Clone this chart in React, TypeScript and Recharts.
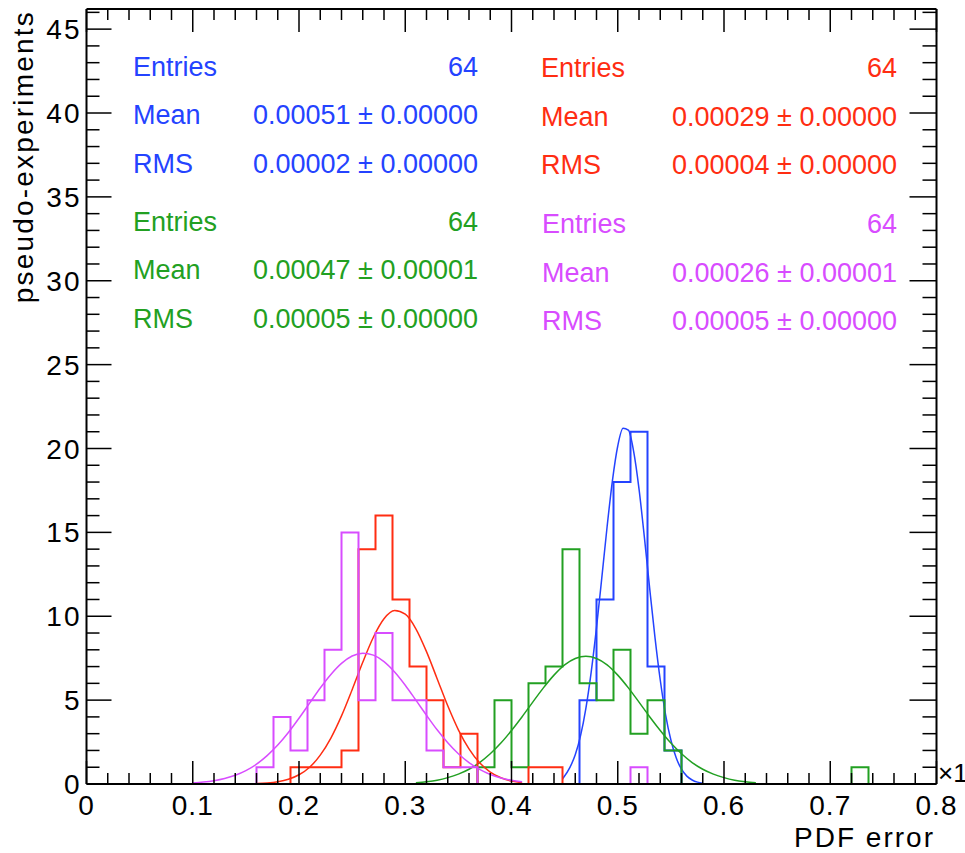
import { Line, LineChart, XAxis, YAxis } from "recharts";

/* Four ROOT-style histograms (50 bins of 0.016 on 0..0.8, x10^-3) with their
   gaussian fits, frame ticks on all four sides, stat boxes drawn as text. */

const BIN_WIDTH = 0.016;

const blueCounts = [
  0, 0, 0, 0, 0, 0, 0, 0, 0, 0,
  0, 0, 0, 0, 0, 0, 0, 0, 0, 0,
  0, 0, 0, 0, 0, 0, 0, 0, 0, 5,
  11, 18, 21, 7, 2, 0, 0, 0, 0, 0,
  0, 0, 0, 0, 0, 0, 0, 0, 0, 0,
];
const greenCounts = [
  0, 0, 0, 0, 0, 0, 0, 0, 0, 0,
  0, 0, 0, 0, 0, 0, 0, 0, 0, 0,
  0, 0, 0, 1, 5, 1, 6, 7, 14, 6,
  5, 8, 3, 5, 2, 0, 0, 0, 0, 0,
  0, 0, 0, 0, 0, 1, 0, 0, 0, 0,
];
const redCounts = [
  0, 0, 0, 0, 0, 0, 0, 0, 0, 0,
  0, 0, 1, 1, 1, 2, 14, 16, 11, 7,
  5, 1, 3, 0, 0, 0, 1, 1, 0, 0,
  0, 0, 0, 0, 0, 0, 0, 0, 0, 0,
  0, 0, 0, 0, 0, 0, 0, 0, 0, 0,
];
const magentaCounts = [
  0, 0, 0, 0, 0, 0, 0, 0, 0, 0,
  1, 4, 2, 5, 8, 15, 5, 9, 5, 5,
  2, 1, 1, 0, 0, 0, 0, 0, 0, 0,
  0, 0, 1, 0, 0, 0, 0, 0, 0, 0,
  0, 0, 0, 0, 0, 0, 0, 0, 0, 0,
];

// fit curves
const blueFitX = [
  0.448, 0.455, 0.46, 0.465, 0.47, 0.475, 0.48, 0.485, 0.49, 0.495, 0.5, 0.505, 0.51, 0.515,
  0.52, 0.525, 0.53, 0.535, 0.54, 0.545, 0.55, 0.555, 0.56, 0.565, 0.57, 0.575, 0.58,
];
const blueFitY = [
  0.3, 0.99, 1.74, 2.88, 4.51, 6.67, 9.32, 12.3, 15.35, 18.09, 20.15, 21.2, 21.09, 19.81,
  17.59, 14.75, 11.69, 8.76, 6.2, 4.14, 2.62, 1.56, 0.88, 0.47, 0.24, 0.11, 0.05,
];
const redFitX = [
  0.16, 0.17, 0.18, 0.19, 0.2, 0.21, 0.22, 0.23, 0.24, 0.25, 0.26, 0.27, 0.28, 0.29, 0.3,
  0.31, 0.32, 0.33, 0.34, 0.35, 0.36, 0.37, 0.38, 0.39, 0.4, 0.41,
];
const redFitY = [
  0.025, 0.06, 0.135, 0.28, 0.55, 1.0, 1.72, 2.74, 4.06, 5.62, 7.26, 8.75, 9.85, 10.34, 10.12,
  9.25, 7.89, 6.28, 4.66, 3.23, 2.09, 1.26, 0.71, 0.37, 0.18, 0.08,
];
const magentaFitX = [
  0.1, 0.11, 0.12, 0.13, 0.14, 0.15, 0.16, 0.17, 0.18, 0.19, 0.2, 0.21, 0.22, 0.23, 0.24, 0.25,
  0.26, 0.27, 0.28, 0.29, 0.3, 0.31, 0.32, 0.33, 0.34, 0.35, 0.36, 0.37, 0.38, 0.39, 0.4, 0.41,
];
const magentaFitY = [
  0.065, 0.115, 0.2, 0.33, 0.52, 0.8, 1.18, 1.69, 2.32, 3.07, 3.92, 4.82, 5.72, 6.53, 7.19, 7.63,
  7.8, 7.68, 7.3, 6.68, 5.89, 5.0, 4.1, 3.23, 2.46, 1.8, 1.27, 0.87, 0.57, 0.36, 0.22, 0.13,
];
const greenFitX = [
  0.31, 0.32, 0.33, 0.34, 0.35, 0.36, 0.37, 0.38, 0.39, 0.4, 0.41, 0.42, 0.43, 0.44, 0.45, 0.46,
  0.47, 0.48, 0.49, 0.5, 0.51, 0.52, 0.53, 0.54, 0.55, 0.56, 0.57, 0.58, 0.59, 0.6, 0.61, 0.62,
  0.63,
];
const greenFitY = [
  0.08, 0.14, 0.23, 0.38, 0.59, 0.88, 1.28, 1.8, 2.44, 3.19, 4.01, 4.88, 5.73, 6.49, 7.1, 7.48,
  7.62, 7.48, 7.1, 6.49, 5.73, 4.88, 4.01, 3.19, 2.44, 1.8, 1.28, 0.88, 0.59, 0.38, 0.23, 0.14,
  0.08,
];

const xMajorTicks = [0, 0.1, 0.2, 0.3, 0.4, 0.5, 0.6, 0.7, 0.8];
const xTickLabels = ["0", "0.1", "0.2", "0.3", "0.4", "0.5", "0.6", "0.7", "0.8"];
const yMajorTicks = [0, 5, 10, 15, 20, 25, 30, 35, 40, 45];
const yTickLabels = ["0", "5", "10", "15", "20", "25", "30", "35", "40", "45"];

const statNames = ["Entries", "Mean", "RMS"];
const blueStats = ["64", "0.00051 \u00b1 0.00000", "0.00002 \u00b1 0.00000"];
const greenStats = ["64", "0.00047 \u00b1 0.00001", "0.00005 \u00b1 0.00000"];
const redStats = ["64", "0.00029 \u00b1 0.00000", "0.00004 \u00b1 0.00000"];
const magentaStats = ["64", "0.00026 \u00b1 0.00001", "0.00005 \u00b1 0.00000"];

const BLUE = "#2443ff";
const GREEN = "#22a022";
const RED = "#ff2d12";
const MAGENTA = "#d84cff";
const FONT = '"Liberation Sans", Arial, Helvetica, sans-serif';

const W = 965;
const H = 853;

// bin edges -> step outline (last edge repeats last bin)
const histData = (counts: number[]) =>
  counts
    .map((c, i) => ({ x: +(i * BIN_WIDTH).toFixed(3), y: c }))
    .concat([{ x: +(counts.length * BIN_WIDTH).toFixed(3), y: counts[counts.length - 1] }]);

const fitData = (xs: number[], ys: number[]) => xs.map((x, i) => ({ x, y: ys[i] }));

// minor subdivisions: 0.02 on x, 1 on y
const xAllTicks = Array.from({ length: 41 }, (_, i) => +(i * 0.02).toFixed(2));
const yAllTicks = Array.from({ length: 47 }, (_, i) => i);

const isMajorX = (v: number) => xMajorTicks.some((m) => Math.abs(m - v) < 1e-6);
const isMajorY = (v: number) => yMajorTicks.includes(v);

const BottomTick = (props: any) => {
  const { x, y, payload } = props;
  const major = isMajorX(payload.value);
  const idx = xMajorTicks.findIndex((m) => Math.abs(m - payload.value) < 1e-6);
  return (
    <g>
      <line x1={x} x2={x} y1={y} y2={y - (major ? 23 : 11)} stroke="#000" strokeWidth={1.5} />
      {major && (
        <text x={x} y={y + 31} textAnchor="middle" fontSize={28} fontFamily={FONT} fill="#000" letterSpacing={1}>
          {xTickLabels[idx]}
        </text>
      )}
    </g>
  );
};

const TopTick = (props: any) => {
  const { x, y, payload } = props;
  const major = isMajorX(payload.value);
  return <line x1={x} x2={x} y1={y} y2={y + (major ? 23 : 11)} stroke="#000" strokeWidth={1.5} />;
};

const LeftTick = (props: any) => {
  const { x, y, payload } = props;
  const major = isMajorY(payload.value);
  const idx = yMajorTicks.indexOf(payload.value);
  return (
    <g>
      <line x1={x} x2={x + (major ? 25 : 13)} y1={y} y2={y} stroke="#000" strokeWidth={1.5} />
      {major && (
        <text x={x - 5} y={y + 10} textAnchor="end" fontSize={28} fontFamily={FONT} fill="#000" letterSpacing={2}>
          {yTickLabels[idx]}
        </text>
      )}
    </g>
  );
};

const RightTick = (props: any) => {
  const { x, y, payload } = props;
  const major = isMajorY(payload.value);
  return <line x1={x} x2={x - (major ? 27 : 14)} y1={y} y2={y} stroke="#000" strokeWidth={1.5} />;
};

function StatBlock({
  values,
  color,
  left,
  right,
  baselines,
}: {
  values: string[];
  color: string;
  left: number;
  right: number;
  baselines: number[];
}) {
  return (
    <g fontFamily={FONT} fontSize={27} fill={color}>
      {statNames.map((name, i) => (
        <g key={name}>
          <text x={left} y={baselines[i]}>
            {name}
          </text>
          <text x={right} y={baselines[i]} textAnchor="end">
            {values[i]}
          </text>
        </g>
      ))}
    </g>
  );
}

export default function App() {
  const frame = { stroke: "#000", strokeWidth: 2 };
  const series = [
    { key: "blue", counts: blueCounts, fx: blueFitX, fy: blueFitY, color: BLUE },
    { key: "green", counts: greenCounts, fx: greenFitX, fy: greenFitY, color: GREEN },
    { key: "red", counts: redCounts, fx: redFitX, fy: redFitY, color: RED },
    { key: "magenta", counts: magentaCounts, fx: magentaFitX, fy: magentaFitY, color: MAGENTA },
  ];
  return (
    <div style={{ position: "absolute", left: 0, top: 0, width: W, height: H, background: "#fff" }}>
      <LineChart width={W} height={H} margin={{ top: 0, right: 0, bottom: 0, left: 0 }}>
        <XAxis
          xAxisId="bottom"
          dataKey="x"
          type="number"
          domain={[0, 0.8]}
          allowDataOverflow
          ticks={xAllTicks}
          interval={0}
          height={69}
          tickSize={0}
          tickMargin={0}
          tick={BottomTick}
          axisLine={frame}
        />
        <XAxis
          xAxisId="top"
          orientation="top"
          dataKey="x"
          type="number"
          domain={[0, 0.8]}
          allowDataOverflow
          ticks={xAllTicks}
          interval={0}
          height={9}
          tickSize={0}
          tickMargin={0}
          tick={TopTick}
          axisLine={frame}
        />
        <YAxis
          yAxisId="left"
          type="number"
          domain={[0, 46.2]}
          allowDataOverflow
          ticks={yAllTicks}
          interval={0}
          width={86.5}
          tickSize={0}
          tickMargin={0}
          tick={LeftTick}
          axisLine={frame}
        />
        <YAxis
          yAxisId="right"
          orientation="right"
          type="number"
          domain={[0, 46.2]}
          allowDataOverflow
          ticks={yAllTicks}
          interval={0}
          width={28.5}
          tickSize={0}
          tickMargin={0}
          tick={RightTick}
          axisLine={frame}
        />
        {series.flatMap((s) => [
          <Line
            key={s.key + "-hist"}
            xAxisId="bottom"
            yAxisId="left"
            data={histData(s.counts)}
            dataKey="y"
            type="stepAfter"
            stroke={s.color}
            strokeWidth={2}
            dot={false}
            activeDot={false}
            isAnimationActive={false}
          />,
          <Line
            key={s.key + "-fit"}
            xAxisId="bottom"
            yAxisId="left"
            data={fitData(s.fx, s.fy)}
            dataKey="y"
            type="monotone"
            stroke={s.color}
            strokeWidth={1.5}
            dot={false}
            activeDot={false}
            isAnimationActive={false}
          />,
        ])}
      </LineChart>
      <svg
        width={W}
        height={H}
        style={{ position: "absolute", left: 0, top: 0, pointerEvents: "none", overflow: "hidden" }}
      >
        <StatBlock values={blueStats} color={BLUE} left={133} right={478} baselines={[76, 124, 172.5]} />
        <StatBlock values={greenStats} color={GREEN} left={133} right={478} baselines={[231, 279, 328]} />
        <StatBlock values={redStats} color={RED} left={541} right={897} baselines={[77, 126, 174]} />
        <StatBlock values={magentaStats} color={MAGENTA} left={542} right={897} baselines={[233, 281.5, 329.5]} />
        <text
          transform="translate(33,10) rotate(-90)"
          textAnchor="end"
          fontFamily={FONT}
          fontSize={28}
          letterSpacing={2.2}
          fill="#000"
        >
          pseudo-experiments
        </text>
        <text x={935} y={847} textAnchor="end" fontFamily={FONT} fontSize={28} letterSpacing={2}>
          PDF error
        </text>
        <text x={938} y={782} fontFamily={FONT} fontSize={26} fill="#000">
          {"\u00d710"}
          <tspan fontSize={18} dy={-12}>
            -3
          </tspan>
        </text>
      </svg>
    </div>
  );
}
